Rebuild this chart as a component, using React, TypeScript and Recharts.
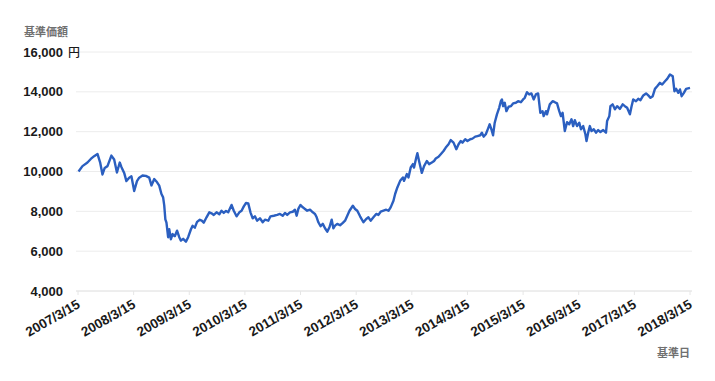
import React from "react";
import { LineChart, Line, XAxis, YAxis, CartesianGrid } from "recharts";

// decimal year of each observation (2007/3/15 = 2007.2)
const timeYears: number[] = [
  2007.21, 2007.28, 2007.37, 2007.43, 2007.49, 2007.55, 2007.6, 2007.64, 2007.68, 2007.73,
  2007.8, 2007.85, 2007.9, 2007.95, 2007.98, 2008.03, 2008.07, 2008.12, 2008.16, 2008.21,
  2008.26, 2008.3, 2008.36, 2008.42, 2008.48, 2008.52, 2008.57, 2008.61, 2008.66, 2008.7,
  2008.73, 2008.75, 2008.77, 2008.79, 2008.82, 2008.84, 2008.87, 2008.9, 2008.94, 2008.98,
  2009.02, 2009.05, 2009.09, 2009.14, 2009.18, 2009.23, 2009.26, 2009.3, 2009.34, 2009.39,
  2009.43, 2009.46, 2009.51, 2009.56, 2009.6, 2009.64, 2009.69, 2009.74, 2009.78, 2009.82,
  2009.86, 2009.9, 2009.96, 2010.0, 2010.05, 2010.1, 2010.14, 2010.18, 2010.22, 2010.26,
  2010.3, 2010.34, 2010.38, 2010.42, 2010.47, 2010.52, 2010.56, 2010.62, 2010.66, 2010.72,
  2010.78, 2010.83, 2010.88, 2010.92, 2010.96, 2011.01, 2011.06, 2011.1, 2011.13, 2011.16,
  2011.2, 2011.24, 2011.28, 2011.32, 2011.37, 2011.42, 2011.46, 2011.49, 2011.52, 2011.56,
  2011.6, 2011.64, 2011.68, 2011.72, 2011.76, 2011.79, 2011.82, 2011.86, 2011.91, 2011.96,
  2012.0, 2012.04, 2012.08, 2012.14, 2012.18, 2012.22, 2012.27, 2012.33, 2012.38, 2012.42,
  2012.46, 2012.51, 2012.56, 2012.6, 2012.64, 2012.69, 2012.74, 2012.78, 2012.82, 2012.87,
  2012.9, 2012.94, 2012.99, 2013.04, 2013.06, 2013.11, 2013.14, 2013.18, 2013.22, 2013.24,
  2013.28, 2013.3, 2013.33, 2013.38, 2013.42, 2013.47, 2013.51, 2013.56, 2013.6, 2013.63,
  2013.68, 2013.72, 2013.77, 2013.81, 2013.86, 2013.9, 2013.95, 2014.0, 2014.04, 2014.08,
  2014.11, 2014.16, 2014.2, 2014.25, 2014.29, 2014.34, 2014.38, 2014.43, 2014.46, 2014.49,
  2014.53, 2014.57, 2014.6, 2014.63, 2014.66, 2014.69, 2014.73, 2014.77, 2014.8, 2014.82,
  2014.84, 2014.87, 2014.9, 2014.94, 2014.98, 2015.02, 2015.07, 2015.11, 2015.16, 2015.2,
  2015.23, 2015.27, 2015.31, 2015.35, 2015.39, 2015.43, 2015.47, 2015.51, 2015.55, 2015.57,
  2015.61, 2015.63, 2015.68, 2015.73, 2015.77, 2015.81, 2015.85, 2015.88, 2015.91, 2015.95,
  2015.99, 2016.03, 2016.07, 2016.1, 2016.13, 2016.17, 2016.21, 2016.24, 2016.28, 2016.32,
  2016.34, 2016.37, 2016.4, 2016.43, 2016.47, 2016.51, 2016.55, 2016.59, 2016.64, 2016.69,
  2016.71, 2016.75, 2016.77, 2016.81, 2016.85, 2016.89, 2016.94, 2016.99, 2017.03, 2017.07,
  2017.12, 2017.15, 2017.18, 2017.23, 2017.27, 2017.31, 2017.36, 2017.41, 2017.45, 2017.49,
  2017.53, 2017.57, 2017.61, 2017.66, 2017.7, 2017.75, 2017.79, 2017.84, 2017.89, 2017.92,
  2017.95, 2017.99, 2018.02, 2018.05, 2018.09, 2018.13, 2018.2,
];

// 基準価額 (円)
const navs: number[] = [
  10000, 10270, 10450, 10630, 10770, 10880, 10430, 9850, 10180, 10270,
  10800, 10600, 9950, 10450, 10230, 9930, 9520, 9690, 9760, 9020,
  9520, 9690, 9800, 9780, 9690, 9300, 9620, 9500, 9290, 8870,
  8700, 8300, 7600, 7430, 6700, 7100, 6600, 6860, 6750, 7030,
  6700, 6530, 6620, 6480, 6700, 7100, 7270, 7180, 7470, 7580,
  7520, 7430, 7700, 7950, 7900, 7820, 7950, 7850, 8030, 7920,
  8020, 7950, 8320, 8030, 7750, 7950, 8030, 8250, 8420, 8400,
  7950, 7650, 7750, 7530, 7650, 7450, 7580, 7530, 7750, 7780,
  7820, 7870, 7780, 7920, 7820, 7950, 7980, 8080, 7780, 8120,
  8320, 8200, 8120, 8030, 8080, 7950, 7870, 7700, 7450, 7250,
  7370, 7150, 6980, 7200, 7580, 7150, 7280, 7370, 7300, 7420,
  7530, 7780, 8030, 8280, 8120, 8030, 7750, 7450, 7620, 7700,
  7530, 7700, 7870, 7820, 7980, 8030, 8080, 8030, 8200, 8530,
  8870, 9200, 9530, 9700, 9530, 9870, 9700, 10200, 10370, 10200,
  10700, 10920, 10530, 9930, 10270, 10530, 10370, 10450, 10530, 10650,
  10740, 10870, 11030, 11200, 11370, 11580, 11450, 11120, 11370, 11530,
  11450, 11620, 11530, 11620, 11650, 11750, 11780, 11820, 11950, 11750,
  11870, 12150, 12370, 12120, 11820, 12450, 12870, 13200, 13530, 13620,
  13280, 13450, 13030, 13250, 13280, 13420, 13450, 13530, 13480, 13620,
  13700, 13980, 13870, 13920, 13620, 13870, 13920, 12950, 13030, 12780,
  13030, 12870, 13370, 13530, 13480, 13420, 13030, 12780, 12950, 12030,
  12480, 12370, 12620, 12280, 12580, 12280, 12450, 12120, 12280, 11870,
  11530, 11950, 12280, 12030, 12120, 11950, 12080, 11980, 12080, 11950,
  12530, 12780, 13280, 13370, 13120, 13280, 13140, 13370, 13280, 13200,
  12870, 13280, 13620, 13530, 13650, 13580, 13820, 13920, 13820, 13700,
  13780, 14150, 14280, 14450, 14370, 14530, 14650, 14870, 14780, 14030,
  14150, 13950, 14120, 13780, 13950, 14150, 14200,
];

const xTickYears: number[] = [2007.2, 2008.2, 2009.2, 2010.2, 2011.2, 2012.2, 2013.2, 2014.2, 2015.2, 2016.2, 2017.2, 2018.2];
const xTickLabels: string[] = [
  "2007/3/15", "2008/3/15", "2009/3/15", "2010/3/15", "2011/3/15", "2012/3/15",
  "2013/3/15", "2014/3/15", "2015/3/15", "2016/3/15", "2017/3/15", "2018/3/15",
];
const yTicks: number[] = [4000, 6000, 8000, 10000, 12000, 14000, 16000];

const data = timeYears.map((t, i) => ({ t, nav: navs[i] }));

const FONT = '"Liberation Sans", Arial, Helvetica, sans-serif';
const CJK = '"Noto Sans CJK JP", "Noto Sans", sans-serif';

const YTick = (props: any) => {
  const { x, y, payload } = props;
  return (
    <g>
      <text x={x} y={y} dy={4.5} textAnchor="end" fontFamily={FONT} fontSize={13} fontWeight={700} fill="#1a1a1a">
        {payload.value.toLocaleString("en-US")}
      </text>
      {payload.value === 16000 && (
        <text x={x + 5} y={y} dy={4.5} textAnchor="start" fontFamily={CJK} fontSize={12} fontWeight={500} fill="#1a1a1a">
          円
        </text>
      )}
    </g>
  );
};

const XTick = (props: any) => {
  const { x, y, payload } = props;
  const idx = xTickYears.findIndex((v) => Math.abs(v - payload.value) < 1e-6);
  const label = idx >= 0 ? xTickLabels[idx] : "";
  const ax = x + 3;
  const ay = y + 10;
  return (
    <text x={ax} y={ay} transform={`rotate(-30 ${ax} ${ay})`} textAnchor="end" fontFamily={FONT} fontSize={13.5} fontWeight={700} fill="#1a1a1a">
      {label}
    </text>
  );
};

export default function App() {
  return (
    <div style={{ position: "absolute", left: 0, top: 0, width: 715, height: 381, background: "#fff" }}>
      <LineChart width={715} height={381} data={data} margin={{ top: 52, right: 23, bottom: 0, left: 0 }}>
        <CartesianGrid vertical={false} stroke="#ececec" strokeWidth={1} />
        <XAxis
          dataKey="t"
          type="number"
          domain={[2007.2, 2018.2]}
          ticks={xTickYears}
          padding={{ left: 2, right: 2 }}
          height={90}
          tickSize={4}
          tickMargin={2}
          axisLine={{ stroke: "#e6e6e6" }}
          tickLine={{ stroke: "#e6e6e6" }}
          tick={<XTick />}
          interval={0}
        />
        <YAxis
          type="number"
          domain={[4000, 16000]}
          ticks={yTicks}
          width={76}
          tickSize={0}
          tickMargin={13}
          axisLine={false}
          tickLine={false}
          tick={<YTick />}
          interval={0}
        />
        <Line
          type="linear"
          dataKey="nav"
          stroke="#2b5fc0"
          strokeWidth={2.4}
          dot={false}
          isAnimationActive={false}
          strokeLinejoin="round"
        />
      </LineChart>
      <div style={{ position: "absolute", left: 24, top: 24, fontFamily: CJK, fontSize: 11, fontWeight: 700, color: "#707070", lineHeight: "14px" }}>
        基準価額
      </div>
      <div style={{ position: "absolute", right: 715 - 690, top: 345, fontFamily: CJK, fontSize: 11, fontWeight: 700, color: "#707070", lineHeight: "14px" }}>
        基準日
      </div>
    </div>
  );
}
